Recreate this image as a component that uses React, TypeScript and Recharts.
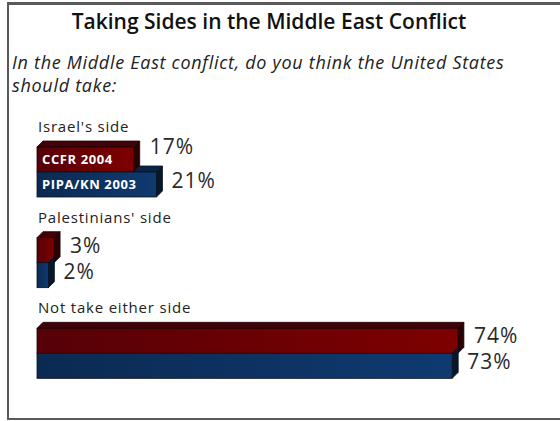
import { BarChart, Bar, XAxis, YAxis, LabelList } from "recharts";

const categories = ["Israel's side", "Palestinians' side", "Not take either side"];
const ccfr2004 = [17, 3, 74];
const pipaKn2003 = [21, 2, 73];
const seriesNames = ["CCFR 2004", "PIPA/KN 2003"];

const data = categories.map((name, i) => ({ name, ccfr: ccfr2004[i], pipa: pipaKn2003[i] }));

const D = 6; // 3d depth

// red bar: front + top face + side face
function RedBar(props: any) {
  const { x, y, width, height } = props;
  return (
    <g>
      <polygon
        points={`${x},${y} ${x + D},${y - D} ${x + width + D},${y - D} ${x + width},${y}`}
        fill="#420207"
        stroke="#1a0000"
        strokeWidth={0.8}
      />
      <polygon
        points={`${x + width},${y} ${x + width + D},${y - D} ${x + width + D},${y + height - D} ${x + width},${y + height}`}
        fill="#2a0003"
        stroke="#1a0000"
        strokeWidth={0.8}
      />
      <rect x={x} y={y} width={width} height={height} fill="url(#redGrad)" stroke="#1a0000" strokeWidth={0.8} />
    </g>
  );
}

// blue bar sits under the red one, so its top face only shows past the red bar
function BlueBar(props: any) {
  const { x, y, width, height, payload } = props;
  const redW = (width * payload.ccfr) / payload.pipa;
  const sideTop = redW >= width + D ? y : y - D;
  return (
    <g>
      {redW < width && (
        <polygon
          points={`${x + redW},${y} ${x + redW + D},${y - D} ${x + width + D},${y - D} ${x + width},${y}`}
          fill="#0a2447"
          stroke="#0a0f1a"
          strokeWidth={0.8}
        />
      )}
      <polygon
        points={`${x + width},${y} ${x + width + D},${sideTop} ${x + width + D},${y + height - D} ${x + width},${y + height}`}
        fill="#06172e"
        stroke="#0a0f1a"
        strokeWidth={0.8}
      />
      <rect x={x} y={y} width={width} height={height} fill="url(#blueGrad)" stroke="#0a0f1a" strokeWidth={0.8} />
    </g>
  );
}

const valueText = (x: number, cy: number, value: number) => (
  <text x={x} y={cy} fontSize={21} fontWeight={500} letterSpacing={1} fill="#2a2a2a" dominantBaseline="middle">
    {value}%
  </text>
);

// red value sits higher when the blue bar below sticks out past it
const redValueLabel = (props: any) => {
  const { x, y, width, height, value, index } = props;
  const blueLonger = pipaKn2003[index] > ccfr2004[index];
  return valueText(x + width + D + 10, blueLonger ? y + 1 : y + height / 2 - 3, value);
};

const blueValueLabel = (props: any) => {
  const { x, y, width, height, value } = props;
  return valueText(x + width + D + 9, y + height / 2 - 2, value);
};

const categoryLabel = (props: any) => {
  const { x, y, value } = props;
  return (
    <text x={x + 1} y={y - 15} fontSize={15} letterSpacing={0.8} fill="#222">
      {value}
    </text>
  );
};

const seriesLabel = (name: string) => (props: any) => {
  const { x, y, height, index } = props;
  if (index !== 0) return null;
  return (
    <text x={x + 5} y={y + height / 2 + 1} fontSize={13} fontWeight={700} letterSpacing={0.6} fill="#fff" dominantBaseline="middle">
      {name}
    </text>
  );
};

export default function App() {
  return (
    <div style={{ position: "absolute", left: 0, top: 0, width: 560, height: 421, background: "#fff", fontFamily: "'Open Sans', sans-serif" }}>
      <div
        style={{
          position: "absolute",
          left: 7,
          top: 2,
          width: 553,
          height: 413,
          borderTop: "3px solid #5a5a5a",
          borderLeft: "2px solid #5a5a5a",
          borderBottom: "2px solid #5a5a5a",
        }}
      />
      <div style={{ position: "absolute", left: 0, width: 538, top: 7, textAlign: "center", fontSize: 21, fontWeight: 600, color: "#111" }}>
        Taking Sides in the Middle East Conflict
      </div>
      <div style={{ position: "absolute", left: 12, top: 51, fontSize: 18, fontStyle: "italic", letterSpacing: 0.7, lineHeight: "23px", color: "#222" }}>
        In the Middle East conflict, do you think the United States
        <br />
        should take:
      </div>
      <div style={{ position: "absolute", left: 0, top: 0 }}>
        <BarChart width={560} height={421} data={data} layout="vertical" barGap={0} barSize={25} margin={{ top: 127, right: 68, bottom: 22, left: 37 }}>
          <defs>
            <linearGradient id="redGrad" x1="0" y1="0" x2="1" y2="0">
              <stop offset="0%" stopColor="#560008" />
              <stop offset="100%" stopColor="#7e0000" />
            </linearGradient>
            <linearGradient id="blueGrad" x1="0" y1="0" x2="1" y2="0">
              <stop offset="0%" stopColor="#0b2a52" />
              <stop offset="100%" stopColor="#0f3a70" />
            </linearGradient>
          </defs>
          <XAxis type="number" domain={[0, 80]} hide />
          <YAxis type="category" dataKey="name" hide />
          <Bar dataKey="ccfr" name={seriesNames[0]} shape={<RedBar />} isAnimationActive={false}>
            <LabelList dataKey="ccfr" content={redValueLabel} />
            <LabelList dataKey="name" content={categoryLabel} />
            <LabelList dataKey="name" content={seriesLabel(seriesNames[0])} />
          </Bar>
          <Bar dataKey="pipa" name={seriesNames[1]} shape={<BlueBar />} isAnimationActive={false}>
            <LabelList dataKey="pipa" content={blueValueLabel} />
            <LabelList dataKey="name" content={seriesLabel(seriesNames[1])} />
          </Bar>
        </BarChart>
      </div>
    </div>
  );
}
